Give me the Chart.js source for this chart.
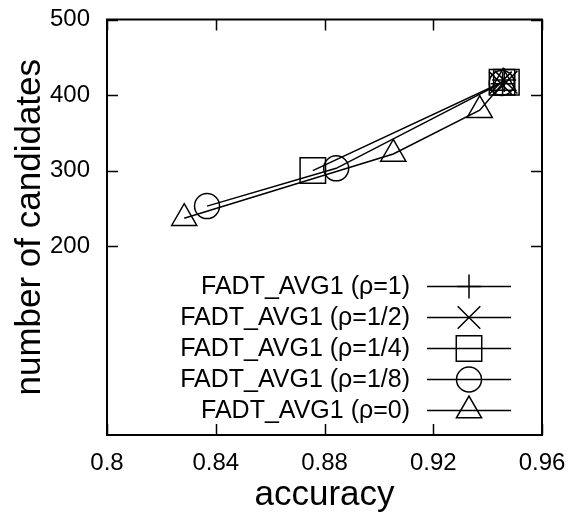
<!DOCTYPE html>
<html>
<head>
<meta charset="utf-8">
<script src="https://cdn.jsdelivr.net/npm/chart.js@4/dist/chart.umd.min.js"></script>
<style>
  html, body { margin: 0; padding: 0; background: #fff; }
  #wrap { width: 569px; height: 521px; }
</style>
</head>
<body>
<div id="wrap"><canvas id="chart" width="569" height="521"></canvas></div>
<script>
// values
const seriesLabels = [
  "FADT_AVG1 (\u03C1=1)",
  "FADT_AVG1 (\u03C1=1/2)",
  "FADT_AVG1 (\u03C1=1/4)",
  "FADT_AVG1 (\u03C1=1/8)",
  "FADT_AVG1 (\u03C1=0)"
];
const rho1X = [0.9455, 0.9461];
const rho1Y = [415, 420];
const rho2X = [0.9447, 0.9468];
const rho2Y = [416, 417];
const rho4X = [0.8757, 0.9453, 0.9469];
const rho4Y = [300, 417, 417];
const rho8X = [0.8368, 0.8843, 0.9452];
const rho8Y = [253, 303, 416];
const rho0X = [0.8284, 0.9053, 0.9371, 0.9457];
const rho0Y = [237, 322, 380, 416];

const xTicks = [0.8, 0.84, 0.88, 0.92, 0.96];
const yTicks = [200, 300, 400, 500];

const FONT = '"Liberation Sans", Arial, Helvetica, sans-serif';
Chart.defaults.font.family = FONT;
Chart.defaults.color = "#000";

const styles = [
  { pointStyle: "cross", radius: 12 },
  { pointStyle: "crossRot", radius: 16 },
  { pointStyle: "rect", radius: 18 },
  { pointStyle: "circle", radius: 12.5 },
  { pointStyle: "triangle", radius: 14.5 }
];

const xs = [rho1X, rho2X, rho4X, rho8X, rho0X];
const ys = [rho1Y, rho2Y, rho4Y, rho8Y, rho0Y];

const datasets = seriesLabels.map((label, i) => ({
  label: label,
  data: xs[i].map((x, j) => ({ x: x, y: ys[i][j] })),
  showLine: true,
  borderColor: "#000",
  borderWidth: 1.5,
  backgroundColor: "rgba(0,0,0,0)",
  pointStyle: styles[i].pointStyle,
  pointRadius: styles[i].radius,
  pointBorderWidth: 1.5,
  pointBorderColor: "#000",
  pointBackgroundColor: "rgba(0,0,0,0)",
  tension: 0
}));

// frame with inward ticks on all four sides (gnuplot look)
const framePlugin = {
  id: "frame",
  afterDatasetsDraw(chart) {
    const { ctx, chartArea: a, scales } = chart;
    const len = 11;
    ctx.save();
    ctx.strokeStyle = "#000";
    ctx.lineWidth = 1.5;
    ctx.beginPath();
    scales.x.ticks.forEach(t => {
      const px = Math.round(scales.x.getPixelForValue(t.value)) + 0.5;
      ctx.moveTo(px, a.bottom); ctx.lineTo(px, a.bottom - len);
      ctx.moveTo(px, a.top); ctx.lineTo(px, a.top + len);
    });
    scales.y.ticks.forEach(t => {
      const py = Math.round(scales.y.getPixelForValue(t.value)) + 0.5;
      ctx.moveTo(a.left, py); ctx.lineTo(a.left + len, py);
      ctx.moveTo(a.right, py); ctx.lineTo(a.right - len, py);
    });
    ctx.stroke();
    ctx.lineWidth = 2;
    ctx.strokeRect(a.left, a.top, a.right - a.left, a.bottom - a.top);
    ctx.restore();
  }
};

// gnuplot style key: right aligned text, then line sample with marker
const keyPlugin = {
  id: "key",
  afterDraw(chart) {
    const ctx = chart.ctx;
    const textRight = 410, lineL = 427, lineR = 511, rowTop = 286, rowGap = 31;
    ctx.save();
    ctx.font = "25px " + FONT;
    ctx.textAlign = "right";
    ctx.textBaseline = "middle";
    chart.data.datasets.forEach((ds, i) => {
      const y = rowTop + i * rowGap;
      ctx.fillStyle = "#000";
      ctx.fillText(ds.label, textRight, y + 1);
      ctx.strokeStyle = "#000";
      ctx.lineWidth = 1.5;
      ctx.beginPath();
      ctx.moveTo(lineL, y + 0.5);
      ctx.lineTo(lineR, y + 0.5);
      ctx.stroke();
      ctx.fillStyle = "rgba(0,0,0,0)";
      Chart.helpers.drawPoint(ctx, {
        pointStyle: ds.pointStyle,
        radius: ds.pointRadius,
        rotation: 0,
        borderWidth: 1.5
      }, (lineL + lineR) / 2, y + 0.5);
    });
    ctx.restore();
  }
};

new Chart(document.getElementById("chart"), {
  type: "scatter",
  data: { datasets: datasets },
  options: {
    responsive: false,
    animation: false,
    devicePixelRatio: 1,
    layout: { padding: { top: 19, right: 27, left: 0, bottom: 0 } },
    plugins: { legend: { display: false }, tooltip: { enabled: false } },
    scales: {
      x: {
        type: "linear",
        min: 0.8,
        max: 0.96,
        afterBuildTicks: s => { s.ticks = xTicks.map(v => ({ value: v })); },
        afterFit: s => { s.height = 86; s.paddingLeft = 0; s.paddingRight = 0; },
        grid: { display: false, drawTicks: false },
        border: { display: false },
        ticks: {
          padding: 14,
          font: { size: 24 },
          color: "#000",
          callback: v => String(+v.toFixed(2))
        },
        title: {
          display: true,
          text: "accuracy",
          font: { size: 35 },
          color: "#000",
          padding: { top: 0, bottom: 5 }
        }
      },
      y: {
        type: "linear",
        min: -50,
        max: 500,
        afterBuildTicks: s => { s.ticks = yTicks.map(v => ({ value: v })); },
        afterFit: s => { s.width = 107; s.paddingTop = 0; s.paddingBottom = 0; },
        grid: { display: false, drawTicks: false },
        border: { display: false },
        ticks: {
          padding: 17,
          font: { size: 24 },
          color: "#000"
        },
        title: {
          display: true,
          text: "number of candidates",
          font: { size: 35 },
          color: "#000",
          padding: { top: 9, bottom: 0 }
        }
      }
    }
  },
  plugins: [framePlugin, keyPlugin]
});
</script>
</body>
</html>
